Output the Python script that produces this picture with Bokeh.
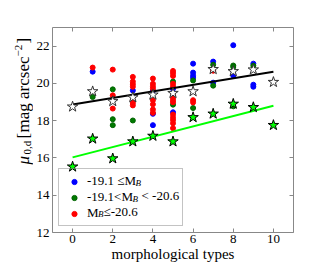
import math
from bokeh.plotting import figure
from bokeh.layouts import row
from bokeh.models import Range1d, LinearAxis, FixedTicker, Label, Legend, LegendItem
from bokeh.embed import file_html
from bokeh.resources import INLINE

# ---------------- data ----------------
# -19.1 <= M_B  (blue)
faint_type = [1, 3, 4, 4, 4, 5, 5, 6, 6, 6, 6, 7, 7, 8, 8, 8, 9, 9, 9]
faint_mu = [20.63, 19.62, 19.60, 18.37, 17.76, 19.71, 18.45, 21.06, 20.58, 20.42, 20.30,
            21.17, 20.04, 22.05, 20.42, 20.50, 21.06, 19.93, 19.82]
# -19.1 < M_B < -20.6  (green)
mid_type = [1, 2, 2, 2, 3, 5, 5, 6, 6, 7, 7, 8, 8, 8, 9]
mid_mu = [19.27, 19.68, 18.08, 17.76, 18.01, 20.10, 18.86, 20.16, 18.68, 21.00, 19.88,
          20.96, 20.88, 18.77, 20.95]
# M_B <= -20.6  (red)
bright_type = [1, 2, 2, 2, 3, 3, 3, 3, 3, 3, 3, 4, 4, 4, 4, 4, 4, 4, 4,
               5, 5, 5, 5, 5, 5, 5, 5, 5, 5, 5, 5, 5, 5, 6, 6, 7]
bright_mu = [20.85, 20.74, 19.36, 18.65, 20.35, 20.10, 19.96, 19.82, 19.07, 18.95, 18.82,
             20.26, 19.98, 19.84, 19.72, 19.10, 18.88, 18.60, 18.42,
             20.67, 20.55, 20.40, 19.98, 19.84, 19.34, 19.22, 19.09, 18.99, 18.33, 18.17,
             18.03, 17.86, 17.60, 19.10, 18.98, 20.68]
# stars per morphological type
star_type = [0, 1, 2, 3, 4, 5, 6, 7, 8, 9, 10]
white_star_mu = [18.75, 19.57, 19.04, 19.25, 19.39, 19.48, 19.57, 20.76, 20.65, 20.74, 20.07]
green_star_mu = [15.53, 17.03, 15.97, 16.88, 17.18, 16.88, 18.18, 18.37, 18.90, 18.72, 17.76]
# fitted lines (end points)
fit_x = [0, 10]
black_fit_y = [18.87, 20.62]
green_fit_y = [16.03, 18.80]

x_ticks = [0, 2, 4, 6, 8, 10]
y_ticks = [12, 14, 16, 18, 20, 22]

FONT = "Liberation Serif"
FRAME = "#888888"

p = figure(width=286, height=265, output_backend="svg", toolbar_location=None,
           x_range=Range1d(-1, 11), y_range=Range1d(12, 23),
           min_border_left=16, min_border_right=26, min_border_top=27, min_border_bottom=33)
p.grid.visible = False
p.outline_line_color = FRAME
p.outline_line_width = 1
p.background_fill_color = "white"
p.border_fill_color = "white"

for ax in (p.xaxis[0], p.yaxis[0]):
    ax.axis_line_color = None
    ax.major_tick_in = 4
    ax.major_tick_out = 0
    ax.major_tick_line_color = FRAME
    ax.minor_tick_line_color = None
    ax.major_label_text_font = FONT
    ax.major_label_text_font_size = "13px"
    ax.major_label_text_color = "black"
    ax.axis_label_text_font = FONT
    ax.axis_label_text_font_style = "normal"
    ax.axis_label_text_color = "black"

p.xaxis[0].ticker = FixedTicker(ticks=x_ticks)
p.yaxis[0].ticker = FixedTicker(ticks=y_ticks)
p.xaxis[0].major_label_standoff = 2
p.yaxis[0].major_label_standoff = 3
p.xaxis[0].axis_label = "morphological types"
p.xaxis[0].axis_label_text_font_size = "15px"
p.xaxis[0].axis_label_standoff = 0

# tick marks on top and right (no labels)
def tick_axis(ticks):
    return LinearAxis(ticker=FixedTicker(ticks=ticks), axis_line_color=None, major_tick_in=4,
                      major_tick_out=0, major_tick_line_color=FRAME, minor_tick_line_color=None,
                      major_label_standoff=0, major_label_text_font_size="0px",
                      major_label_overrides={t: "" for t in ticks})
p.add_layout(tick_axis(x_ticks), "above")
p.add_layout(tick_axis(y_ticks), "right")

# points
r_faint = p.scatter(faint_type, faint_mu, marker="circle", size=5,
                    fill_color="#0000ff", line_color="#0000ff")
r_mid = p.scatter(mid_type, mid_mu, marker="circle", size=5,
                  fill_color="#007a00", line_color="#006400")
r_bright = p.scatter(bright_type, bright_mu, marker="circle", size=5,
                     fill_color="#ff0000", line_color="#ff0000")

# fitted lines
p.line(fit_x, black_fit_y, line_color="black", line_width=2)
p.line(fit_x, green_fit_y, line_color="#00ff00", line_width=2)

# stars
p.scatter(star_type, white_star_mu, marker="star", size=11,
          fill_color="white", line_color="#333333", line_width=1)
p.scatter(star_type, green_star_mu, marker="star", size=11,
          fill_color="#00ff00", line_color="black", line_width=1)

# legend (subscripts added as labels)
legend = Legend(items=[LegendItem(label="-19.1 \u2264M", renderers=[r_faint]),
                       LegendItem(label="-19.1<M", renderers=[r_mid]),
                       LegendItem(label="M", renderers=[r_bright])],
                location=(6, 6), padding=4, spacing=0, margin=0,
                label_height=15, glyph_height=13, glyph_width=22, label_standoff=2,
                label_width=91, border_line_color=FRAME, border_line_width=1,
                label_text_font=FONT, label_text_font_size="13px",
                label_text_color="black", background_fill_alpha=0)
p.add_layout(legend)


def lab(fig, text, x, y, size, style="normal", angle=0.0):
    fig.add_layout(Label(text=text, x=x, y=y, x_units="screen", y_units="screen",
                         text_font=FONT, text_font_size=size, text_font_style=style,
                         text_align="left", text_baseline="middle", text_color="black",
                         angle=angle, level="overlay"))

row_y = [52.5, 37, 21.5]
lab(p, "B", 83, row_y[0] - 3, "9px", "italic")
lab(p, "B", 80, row_y[1] - 3, "9px", "italic")
lab(p, "< -20.6", 89, row_y[1], "13px")
lab(p, "B", 45.5, row_y[2] - 3, "9px", "italic")
lab(p, "\u2264-20.6", 51, row_y[2], "13px")

# y axis label panel (composed text with sub/superscripts)
q = figure(width=33, height=265, output_backend="svg", toolbar_location=None,
           x_range=Range1d(0, 1), y_range=Range1d(0, 1), min_border=0)
q.axis.visible = False
q.grid.visible = False
q.outline_line_color = None
A = math.pi / 2
lab(q, "\u03bc", 23, 68, "17px", "italic", A)
lab(q, "0,d", 26, 78, "11px", "normal", A)
lab(q, "[", 23, 94, "17px", "normal", A)
lab(q, "mag arcsec", 23, 100, "17px", "normal", A)
lab(q, "\u22122", 18, 176, "11px", "normal", A)
lab(q, "]", 23, 189, "17px", "normal", A)

layout = row(q, p, spacing=0)
open("out.html", "w").write(file_html(layout, INLINE))
